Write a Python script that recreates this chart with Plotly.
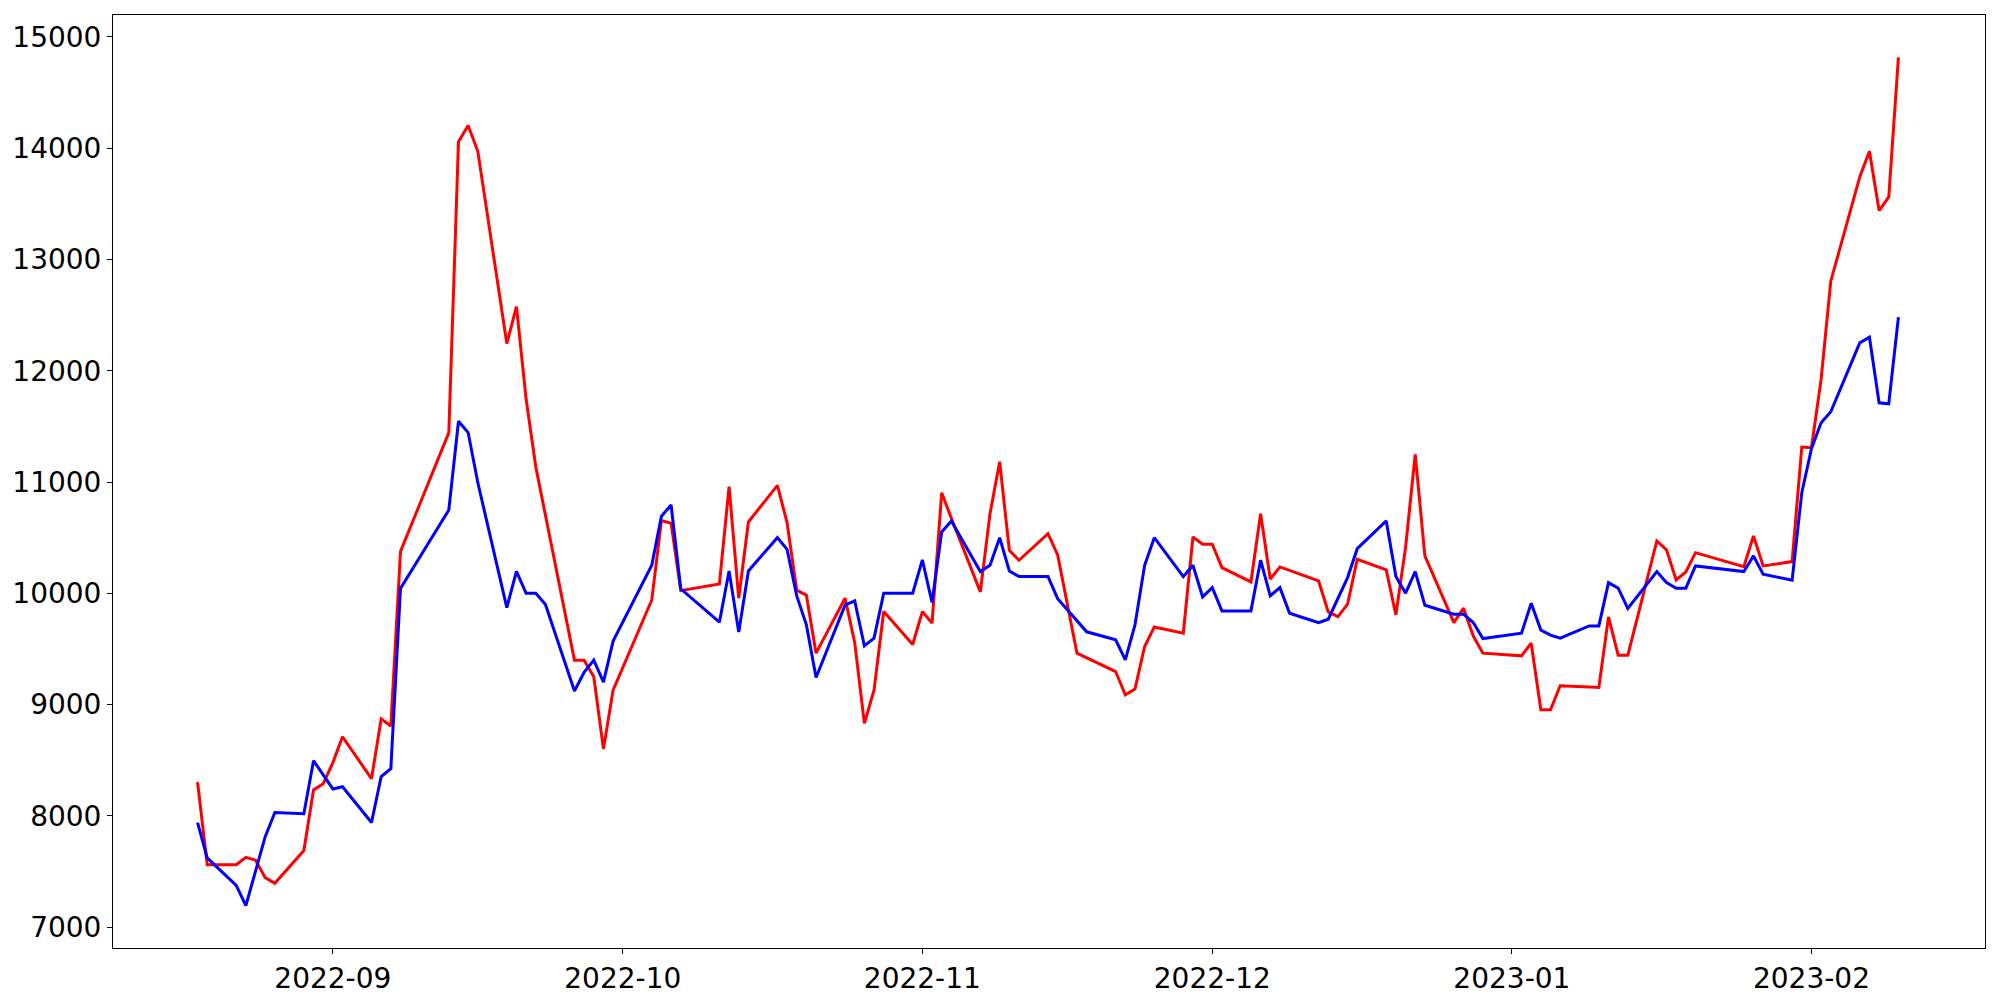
import plotly.graph_objects as go

dates = [
    "2022-08-18", "2022-08-19", "2022-08-22", "2022-08-23", "2022-08-24", "2022-08-25",
    "2022-08-26", "2022-08-29", "2022-08-30", "2022-08-31", "2022-09-01", "2022-09-02",
    "2022-09-05", "2022-09-06", "2022-09-07", "2022-09-08", "2022-09-13", "2022-09-14",
    "2022-09-15", "2022-09-16", "2022-09-19", "2022-09-20", "2022-09-21", "2022-09-22",
    "2022-09-23", "2022-09-26", "2022-09-27", "2022-09-28", "2022-09-29", "2022-09-30",
    "2022-10-04", "2022-10-05", "2022-10-06", "2022-10-07", "2022-10-11", "2022-10-12",
    "2022-10-13", "2022-10-14", "2022-10-17", "2022-10-18", "2022-10-19", "2022-10-20",
    "2022-10-21", "2022-10-24", "2022-10-25", "2022-10-26", "2022-10-27", "2022-10-28",
    "2022-10-31", "2022-11-01", "2022-11-02", "2022-11-03", "2022-11-04", "2022-11-07",
    "2022-11-08", "2022-11-09", "2022-11-10", "2022-11-11", "2022-11-14", "2022-11-15",
    "2022-11-17", "2022-11-18", "2022-11-21", "2022-11-22", "2022-11-23", "2022-11-24",
    "2022-11-25", "2022-11-28", "2022-11-29", "2022-11-30", "2022-12-01", "2022-12-02",
    "2022-12-05", "2022-12-06", "2022-12-07", "2022-12-08", "2022-12-09", "2022-12-12",
    "2022-12-13", "2022-12-14", "2022-12-15", "2022-12-16", "2022-12-19", "2022-12-20",
    "2022-12-21", "2022-12-22", "2022-12-23", "2022-12-26", "2022-12-27", "2022-12-28",
    "2022-12-29", "2023-01-02", "2023-01-03", "2023-01-04", "2023-01-05", "2023-01-06",
    "2023-01-09", "2023-01-10", "2023-01-11", "2023-01-12", "2023-01-13", "2023-01-16",
    "2023-01-17", "2023-01-18", "2023-01-19", "2023-01-20", "2023-01-25", "2023-01-26",
    "2023-01-27", "2023-01-30", "2023-01-31", "2023-02-01", "2023-02-02", "2023-02-03",
    "2023-02-06", "2023-02-07", "2023-02-08", "2023-02-09", "2023-02-10",
]

red_values = [
    8303, 7562, 7562, 7627, 7602, 7445,
    7395, 7688, 8233, 8288, 8479, 8711,
    8334, 8872, 8807, 10375, 11444, 14057,
    14203, 13971, 12244, 12576, 11743, 11135,
    10701, 9399, 9399, 9250, 8602, 9130,
    9940, 10653, 10629, 10024, 10084, 10958,
    9956, 10641, 10970, 10635, 10028, 9983,
    9462, 9956, 9558, 8831, 9130, 9836,
    9540, 9836, 9732, 10904, 10674, 10013,
    10716, 11182, 10387, 10297, 10536, 10345,
    9462, 9421, 9297, 9088, 9139, 9522,
    9698, 9642, 10506, 10441, 10441, 10231,
    10102, 10715, 10127, 10237, 10206, 10111,
    9833, 9791, 9902, 10306, 10210, 9806,
    10410, 11249, 10336, 9737, 9866, 9618,
    9462, 9438, 9552, 8953, 8953, 9169,
    9157, 9154, 9788, 9444, 9444, 10470,
    10390, 10120, 10192, 10365, 10240, 10515,
    10246, 10285, 11314, 11308, 11922, 12804,
    13741, 13971, 13439, 13561, 14815,
]

blue_values = [
    7940, 7622, 7375, 7194, 7504, 7813,
    8030, 8020, 8496, 8370, 8242, 8262,
    7940, 8354, 8424, 10043, 10749, 11546,
    11444, 10994, 9872, 10197, 10000, 10000,
    9899, 9122, 9291, 9399, 9202, 9571,
    10252, 10693, 10793, 10040, 9740, 10201,
    9651, 10201, 10500, 10395, 9977, 9716,
    9243, 9893, 9932, 9528, 9597, 10001,
    10001, 10300, 9917, 10551, 10650, 10195,
    10252, 10500, 10201, 10150, 10150, 9952,
    9753, 9654, 9582, 9402, 9716, 10252,
    10500, 10150, 10252, 9968, 10051, 9842,
    9842, 10297, 9977, 10051, 9821, 9737,
    9767, 9947, 10141, 10401, 10650, 10150,
    10001, 10195, 9893, 9812, 9812, 9737,
    9593, 9642, 9911, 9669, 9624, 9597,
    9707, 9707, 10096, 10046, 9863, 10195,
    10096, 10046, 10046, 10246, 10195, 10336,
    10171, 10117, 10904, 11300, 11532, 11631,
    12250, 12302, 11712, 11703, 12481,
]

month_ticks = ["2022-09-01", "2022-10-01", "2022-11-01", "2022-12-01", "2023-01-01", "2023-02-01"]
month_labels = ["2022-09", "2022-10", "2022-11", "2022-12", "2023-01", "2023-02"]
y_ticks = [7000, 8000, 9000, 10000, 11000, 12000, 13000, 14000, 15000]

fig = go.Figure()

fig.add_trace(go.Scatter(
    x=dates,
    y=red_values,
    mode='lines',
    line=dict(color='red', width=3),
    name='red',
))

fig.add_trace(go.Scatter(
    x=dates,
    y=blue_values,
    mode='lines',
    line=dict(color='blue', width=3),
    name='blue',
))

# matplotlib-style 5% padding around the data
all_vals = red_values + blue_values
lo, hi = min(all_vals), max(all_vals)
pad = (hi - lo) * 0.05

axis_style = dict(
    showgrid=False,
    zeroline=False,
    showline=True,
    mirror=True,
    linecolor='black',
    linewidth=1,
    ticks='outside',
    ticklen=5,
    tickwidth=1,
    tickcolor='black',
    automargin=False,
    tickfont=dict(family='DejaVu Sans', size=28, color='black'),
)

# the page body adds an 8px offset, so margins are shifted to compensate
fig.update_layout(
    width=2000,
    height=1000,
    margin=dict(l=105, r=23, t=7, b=60),
    paper_bgcolor='white',
    plot_bgcolor='white',
    showlegend=False,
    xaxis=dict(
        type='date',
        range=["2022-08-09 06:00", "2023-02-18 23:00"],
        tickvals=month_ticks,
        ticktext=month_labels,
        **axis_style,
    ),
    yaxis=dict(
        range=[lo - pad, hi + pad],
        tickvals=y_ticks,
        ticktext=[str(v) for v in y_ticks],
        **axis_style,
    ),
)

fig.write_html("out.html")
